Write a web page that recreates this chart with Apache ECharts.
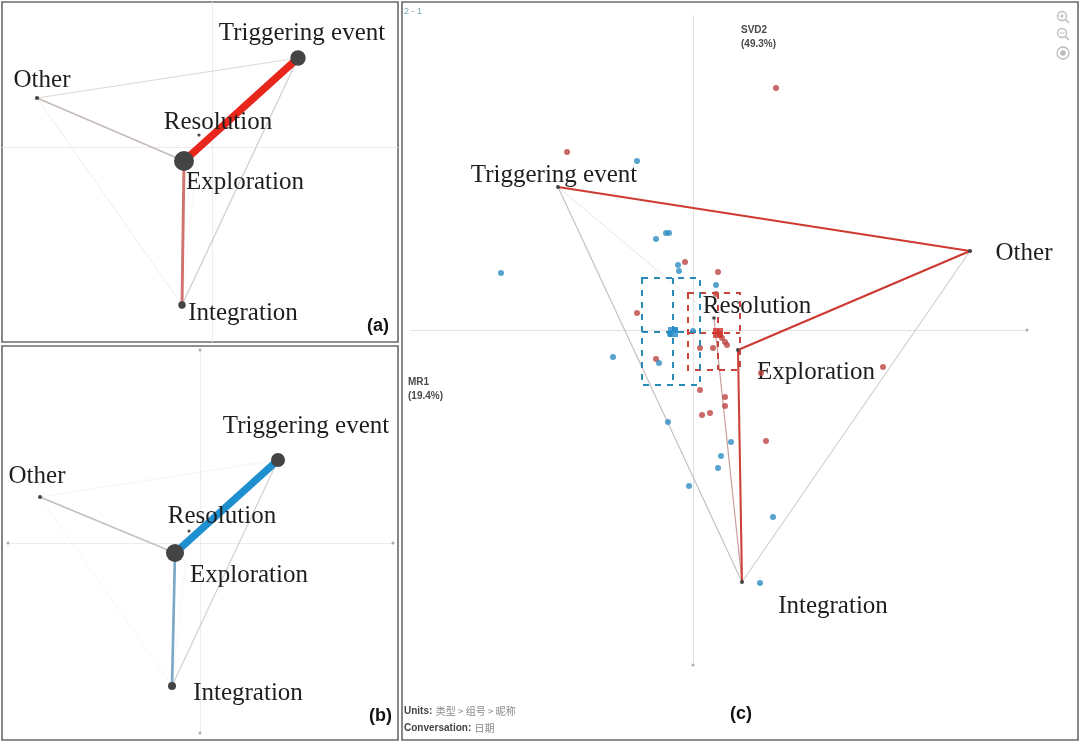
<!DOCTYPE html>
<html>
<head>
<meta charset="utf-8">
<script src="https://cdn.jsdelivr.net/npm/echarts/dist/echarts.min.js"></script>
<style>
html, body { margin: 0; padding: 0; background: #fff; }
#chart-container { width: 1080px; height: 743px; }
</style>
</head>
<body>
<div id="chart-container"></div>
<script>
// codes (network nodes)
let codes = ['Triggering event', 'Other', 'Resolution', 'Exploration', 'Integration']

// node positions in ENA space, one set per panel
let nodesA_x = [0.86, -1.75, -0.13, -0.28, -0.30]
let nodesA_y = [0.89, 0.49, 0.12, -0.14, -1.58]
let nodesB_x = [0.78, -1.60, -0.11, -0.25, -0.28]
let nodesB_y = [0.83, 0.46, 0.12, -0.10, -1.43]
let nodesC_x = [-0.675, 1.385, 0.105, 0.225, 0.245]
let nodesC_y = [0.715, 0.395, 0.06, -0.10, -1.26]

// node weights (relative code frequency)
let nodeWeightsA = [0.62, 0.06, 0.01, 0.85, 0.22]
let nodeWeightsB = [0.55, 0.05, 0.0, 0.75, 0.25]
let nodeWeightsC = [0.05, 0.06, 0.03, 0.05, 0.05]

// edges: pairs of code indexes, then the weight of each pair per panel
let edgePairs = [[0,1],[0,2],[0,3],[0,4],[1,2],[1,3],[1,4],[2,3],[2,4],[3,4]]
let weightsA = [0.04, 0.01, 0.62, 0.05, 0.004, 0.07, 0.02, 0.008, 0.008, 0.20]
let weightsB = [0.015, 0.008, 0.60, 0.05, 0.004, 0.07, 0.012, 0.008, 0.008, 0.18]
// subtracted network (a - b): positive = red group, negative = blue group
let weightsC = [0.20, 0.01, 0.0, 0.03, 0.0, 0.20, 0.02, 0.005, 0.04, 0.18]

// unit points (panel c)
let redX = [0.415, -0.63, -0.04, 0.125, 0.115, -0.28, 0.16, 0.17, 0.035, 0.10, -0.185, 0.34, 0.035, 0.16, 0.16, 0.045, 0.085, 0.365, 0.95, 0.135, 0.145]
let redY = [1.21, 0.89, 0.34, 0.29, 0.18, 0.085, -0.06, -0.075, -0.09, -0.09, -0.145, -0.215, -0.30, -0.335, -0.38, -0.425, -0.415, -0.555, -0.185, -0.02, -0.04]
let blueX = [-0.28, -0.185, -0.135, -0.12, -0.96, -0.075, -0.07, 0.115, 0.0, -0.115, -0.09, -0.40, -0.17, -0.125, 0.19, 0.14, 0.125, -0.02, 0.40, 0.335]
let blueY = [0.845, 0.455, 0.485, 0.485, 0.285, 0.325, 0.295, 0.225, -0.005, -0.02, 0.0, -0.135, -0.165, -0.46, -0.56, -0.63, -0.69, -0.78, -0.935, -1.265]

// group means and confidence intervals [meanX, meanY, xLo, xHi, yLo, yHi]
let redMean = [0.125, -0.015, -0.025, 0.235, -0.20, 0.185]
let blueMean = [-0.10, -0.01, -0.255, 0.035, -0.275, 0.26]

// axis extents (drawn crosshair)
let crossA_x = [-2.10, 1.86]
let crossA_y = [-1.95, 1.45]
let crossB_x = [-1.92, 1.93]
let crossB_y = [-1.90, 1.93]
let crossC_x = [-1.415, 1.67]
let crossC_y = [-1.675, 1.575]

// panel ranges
let rangeA_x = [-2.10, 1.86], rangeA_y = [-1.95, 1.45]
let rangeB_x = [-1.98, 1.98], rangeB_y = [-1.97, 1.97]
let rangeC_x = [-1.455, 1.925], rangeC_y = [-2.05, 1.64]

// label offsets (pixels) for each code, per panel
let labelOffA = [[4,-25],[5,-18],[19,-13],[61,21],[61,8]]
let labelOffB = [[28,-34],[-3,-21],[33,-15],[74,22],[76,7]]
let labelOffC = [[-4,-12],[54,2],[43,-12],[78,22],[91,24]]

function hexToRgb(h) {
    return [parseInt(h.slice(1,3),16), parseInt(h.slice(3,5),16), parseInt(h.slice(5,7),16)]
}
function mix(c1, c2, t) {
    let a = hexToRgb(c1), b = hexToRgb(c2)
    let r = a.map((v, i) => Math.round(v + (b[i] - v) * t))
    return 'rgb(' + r.join(',') + ')'
}
function edgeStyle(w, maxW, hot, gray, wBase, wMul) {
    let t = Math.abs(w) / maxW
    let s = Math.sqrt(Math.max(0, (t - 0.15) / 0.85))
    return {
        width: wBase + wMul * Math.abs(w),
        color: mix(gray, hot, s),
        opacity: Math.min(1, t * 8),
        curveness: 0
    }
}

function buildGraph(xs, ys, nw, weights, offs, hotPos, hotNeg, gray, wBase, wMul, sizeMul, gi) {
    let maxW = Math.max(...weights.map(Math.abs))
    let nodes = codes.map((c, i) => ({
        name: c,
        value: [xs[i], ys[i]],
        symbolSize: 3 + sizeMul * nw[i],
        label: { offset: offs[i] }
    }))
    let links = []
    edgePairs.forEach((p, i) => {
        let w = weights[i]
        if (w === 0) return
        links.push({
            source: codes[p[0]],
            target: codes[p[1]],
            lineStyle: edgeStyle(w, maxW, w > 0 ? hotPos : hotNeg, gray, wBase, wMul)
        })
    })
    // weakest edges first so strong ones stay on top
    links.sort((a, b) => a.lineStyle.width - b.lineStyle.width)
    return {
        type: 'graph',
        coordinateSystem: 'cartesian2d',
        xAxisIndex: gi,
        yAxisIndex: gi,
        z: 3,
        silent: true,
        symbol: 'circle',
        itemStyle: { color: '#444444' },
        label: {
            show: true,
            position: 'inside',
            fontFamily: 'Liberation Serif',
            fontSize: 25,
            color: '#1e1e1e'
        },
        data: nodes,
        links: links
    }
}

function crossSeries(cx, cy, gi, color) {
    return {
        type: 'lines',
        coordinateSystem: 'cartesian2d',
        xAxisIndex: gi,
        yAxisIndex: gi,
        z: 1,
        silent: true,
        lineStyle: { color: color, width: 1, opacity: 1 },
        data: [
            { coords: [[cx[0], 0], [cx[1], 0]] },
            { coords: [[0, cy[0]], [0, cy[1]]] }
        ]
    }
}

function ciSeries(m, color, gi) {
    return {
        type: 'custom',
        xAxisIndex: gi,
        yAxisIndex: gi,
        z: 5,
        silent: true,
        data: [m],
        renderItem: function (params, api) {
            let c = api.coord([api.value(0), api.value(1)])
            let tl = api.coord([api.value(2), api.value(5)])
            let br = api.coord([api.value(3), api.value(4)])
            let st = { stroke: color, lineWidth: 2, lineDash: [6, 6], fill: null }
            return {
                type: 'group',
                children: [
                    { type: 'rect', shape: { x: tl[0], y: tl[1], width: br[0] - tl[0], height: br[1] - tl[1] }, style: st },
                    { type: 'line', shape: { x1: c[0], y1: tl[1], x2: c[0], y2: br[1] }, style: st },
                    { type: 'line', shape: { x1: tl[0], y1: c[1], x2: br[0], y2: c[1] }, style: st }
                ]
            }
        }
    }
}

let dom = document.getElementById('chart-container')
let myChart = echarts.init(dom, null, { renderer: 'canvas' })

let gridStyle = { show: true, borderColor: '#6a6a6a', borderWidth: 1.6, backgroundColor: '#fff' }
let option = {
    animation: false,
    backgroundColor: '#fff',
    grid: [
        Object.assign({ left: 2, top: 2, width: 396, height: 340 }, gridStyle),
        Object.assign({ left: 2, top: 346, width: 396, height: 394 }, gridStyle),
        Object.assign({ left: 402, top: 2, width: 676, height: 738 }, gridStyle)
    ],
    xAxis: [
        { type: 'value', gridIndex: 0, min: rangeA_x[0], max: rangeA_x[1], show: false },
        { type: 'value', gridIndex: 1, min: rangeB_x[0], max: rangeB_x[1], show: false },
        { type: 'value', gridIndex: 2, min: rangeC_x[0], max: rangeC_x[1], show: false }
    ],
    yAxis: [
        { type: 'value', gridIndex: 0, min: rangeA_y[0], max: rangeA_y[1], show: false },
        { type: 'value', gridIndex: 1, min: rangeB_y[0], max: rangeB_y[1], show: false },
        { type: 'value', gridIndex: 2, min: rangeC_y[0], max: rangeC_y[1], show: false }
    ],
    graphic: [
        { type: 'text', left: 367, top: 317, style: { text: '(a)', font: 'bold 18px "Liberation Sans"', fill: '#111' } },
        { type: 'text', left: 369, top: 707, style: { text: '(b)', font: 'bold 18px "Liberation Sans"', fill: '#111' } },
        { type: 'text', left: 730, top: 705, style: { text: '(c)', font: 'bold 18px "Liberation Sans"', fill: '#111' } },
        { type: 'text', left: 404, top: 7, style: { text: '2 - 1', font: '9px "Liberation Sans"', fill: '#7aa6a8' } },
        { type: 'text', left: 741, top: 23, style: { text: 'SVD2\n(49.3%)', font: 'bold 10px "Liberation Sans"', fill: '#4a4a4a', lineHeight: 14 } },
        { type: 'text', left: 408, top: 375, style: { text: 'MR1\n(19.4%)', font: 'bold 10px "Liberation Sans"', fill: '#4a4a4a', lineHeight: 14 } },
        {
            type: 'text', left: 404, top: 703,
            style: {
                text: '{b|Units:} {g|类型 > 组号 > 昵称}\n{b|Conversation:} {g|日期}',
                lineHeight: 17,
                rich: {
                    b: { fontFamily: 'Liberation Sans', fontWeight: 'bold', fontSize: 10, fill: '#444', lineHeight: 17 },
                    g: { fontFamily: 'Noto Sans CJK SC', fontSize: 10, fill: '#8a8a8a', lineHeight: 17 }
                }
            }
        },
        // toolbar icons (zoom in, zoom out, center)
        { type: 'circle', shape: { cx: 1062, cy: 16, r: 4.5 }, style: { stroke: '#bbb', fill: null, lineWidth: 1.3 } },
        { type: 'line', shape: { x1: 1065.5, y1: 19.5, x2: 1069, y2: 23 }, style: { stroke: '#bbb', lineWidth: 1.6 } },
        { type: 'line', shape: { x1: 1059.5, y1: 16, x2: 1064.5, y2: 16 }, style: { stroke: '#bbb', lineWidth: 1 } },
        { type: 'line', shape: { x1: 1062, y1: 13.5, x2: 1062, y2: 18.5 }, style: { stroke: '#bbb', lineWidth: 1 } },
        { type: 'circle', shape: { cx: 1062, cy: 33, r: 4.5 }, style: { stroke: '#bbb', fill: null, lineWidth: 1.3 } },
        { type: 'line', shape: { x1: 1065.5, y1: 36.5, x2: 1069, y2: 40 }, style: { stroke: '#bbb', lineWidth: 1.6 } },
        { type: 'line', shape: { x1: 1059.5, y1: 33, x2: 1064.5, y2: 33 }, style: { stroke: '#bbb', lineWidth: 1 } },
        { type: 'circle', shape: { cx: 1063, cy: 53, r: 6 }, style: { stroke: '#bbb', fill: null, lineWidth: 1.3 } },
        { type: 'circle', shape: { cx: 1063, cy: 53, r: 2.8 }, style: { fill: '#bbb' } }
    ],
    series: [
        crossSeries(crossA_x, crossA_y, 0, '#ececec'),
        crossSeries(crossB_x, crossB_y, 1, '#ececec'),
        crossSeries(crossC_x, crossC_y, 2, '#e2e2e2'),
        {
            type: 'scatter', xAxisIndex: 1, yAxisIndex: 1, silent: true, symbolSize: 3, z: 2,
            itemStyle: { color: '#999' },
            data: [[crossB_x[0], 0], [crossB_x[1], 0], [0, crossB_y[0]], [0, crossB_y[1]]]
        },
        {
            type: 'scatter', xAxisIndex: 2, yAxisIndex: 2, silent: true, symbolSize: 3, z: 2,
            itemStyle: { color: '#999' },
            data: [[crossC_x[1], 0], [0, crossC_y[0]]]
        },
        buildGraph(nodesA_x, nodesA_y, nodeWeightsA, weightsA, labelOffA, '#e8261c', '#1e90d0', '#bdb2ae', 0.7, 11, 20, 0),
        buildGraph(nodesB_x, nodesB_y, nodeWeightsB, weightsB, labelOffB, '#1e90d0', '#e8261c', '#bcbcbc', 0.7, 11, 20, 1),
        buildGraph(nodesC_x, nodesC_y, nodeWeightsC, weightsC, labelOffC, '#cc3a32', '#2b8cc4', '#c4bcbb', 0.9, 6.5, 20, 2),
        {
            type: 'scatter', xAxisIndex: 2, yAxisIndex: 2, silent: true, symbolSize: 6, z: 4,
            itemStyle: { color: '#bd4541' },
            data: redX.map((x, i) => [x, redY[i]])
        },
        {
            type: 'scatter', xAxisIndex: 2, yAxisIndex: 2, silent: true, symbolSize: 6, z: 4,
            itemStyle: { color: '#2e8dc2' },
            data: blueX.map((x, i) => [x, blueY[i]])
        },
        ciSeries(redMean, '#c9433d', 2),
        ciSeries(blueMean, '#2a8ab8', 2),
        {
            type: 'scatter', xAxisIndex: 2, yAxisIndex: 2, silent: true, symbol: 'rect', symbolSize: 10, z: 6,
            itemStyle: { color: '#d1312a' },
            data: [[redMean[0], redMean[1]]]
        },
        {
            type: 'scatter', xAxisIndex: 2, yAxisIndex: 2, silent: true, symbol: 'rect', symbolSize: 10, z: 6,
            itemStyle: { color: '#1f8bc9' },
            data: [[blueMean[0], blueMean[1]]]
        }
    ]
}

if (option && typeof option === 'object') {
    myChart.setOption(option)
}
window.addEventListener('resize', myChart.resize)
</script>
</body>
</html>
